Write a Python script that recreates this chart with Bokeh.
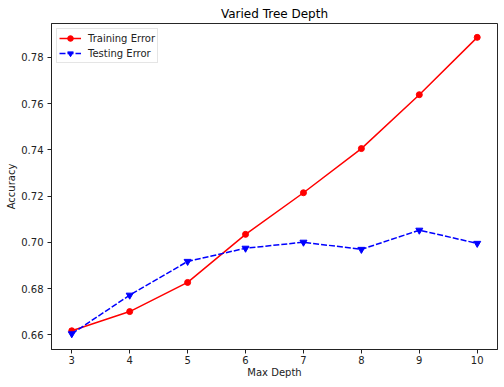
from bokeh.plotting import figure
from bokeh.models import FixedTicker, PrintfTickFormatter, Range1d, Legend, LegendItem
from bokeh.embed import file_html
from bokeh.resources import INLINE

depths = [3, 4, 5, 6, 7, 8, 9, 10]
training_error = [0.6618, 0.6701, 0.6827, 0.7035, 0.7215, 0.7406, 0.7639, 0.7887]
testing_error = [0.6605, 0.6772, 0.6918, 0.6975, 0.7001, 0.6970, 0.7053, 0.6996]
x_ticks = [3, 4, 5, 6, 7, 8, 9, 10]
y_ticks = [0.66, 0.68, 0.70, 0.72, 0.74, 0.76, 0.78]

FONT = "DejaVu Sans"

p = figure(width=502, height=385, output_backend="svg", toolbar_location=None,
           x_range=Range1d(2.65, 10.35), y_range=Range1d(0.6537, 0.7947),
           min_border_left=51, min_border_right=5, min_border_top=23, min_border_bottom=36,
           title="Varied Tree Depth")

p.title.align = "center"
p.title.vertical_align = "middle"
p.title.text_font = FONT
p.title.text_font_size = "12px"
p.title.text_font_style = "normal"
p.title.text_color = "black"
p.title.standoff = 3
p.title.offset = 0

p.xgrid.visible = False
p.ygrid.visible = False
p.outline_line_color = "black"
p.outline_line_width = 1
p.outline_line_alpha = 0.85

for ax in (p.xaxis[0], p.yaxis[0]):
    ax.major_label_text_font = FONT
    ax.major_label_text_font_size = "10px"
    ax.major_label_text_color = "#222222"
    ax.axis_label_text_font = FONT
    ax.axis_label_text_font_size = "10px"
    ax.axis_label_text_font_style = "normal"
    ax.axis_label_text_color = "#222222"
    ax.minor_tick_line_color = None
    ax.major_tick_out = 4
    ax.major_tick_in = 0
    ax.major_tick_line_color = "#222222"
    ax.axis_line_color = "#222222"

p.xaxis[0].major_label_standoff = 2
p.yaxis[0].major_label_standoff = 4
p.xaxis[0].ticker = FixedTicker(ticks=x_ticks)
p.yaxis[0].ticker = FixedTicker(ticks=y_ticks)
p.yaxis[0].formatter = PrintfTickFormatter(format="%.2f")
p.xaxis[0].axis_label = "Max Depth"
p.yaxis[0].axis_label = "Accuracy"
p.xaxis[0].axis_label_standoff = 0
p.yaxis[0].axis_label_standoff = 1

tr_line = p.line(depths, training_error, line_color="#ff0000", line_width=1.5)
tr_pts = p.scatter(depths, training_error, marker="circle", size=6,
                   fill_color="#ff0000", line_color="#ff0000", line_width=1)
te_line = p.line(depths, testing_error, line_color="#0000ff", line_width=1.5,
                 line_dash="6 2")
te_pts = p.scatter(depths, testing_error, marker="inverted_triangle", size=7,
                   fill_color="#0000ff", line_color="#0000ff", line_width=1)

legend = Legend(items=[LegendItem(label="Training Error", renderers=[tr_line, tr_pts]),
                       LegendItem(label="Testing Error", renderers=[te_line, te_pts])],
                location="top_left")
legend.label_text_font = FONT
legend.label_text_font_size = "10px"
legend.label_text_color = "#222222"
legend.border_line_color = "#cccccc"
legend.border_line_width = 1
legend.background_fill_alpha = 0.8
legend.margin = 5
legend.padding = 2
legend.spacing = 1
legend.glyph_width = 22
legend.glyph_height = 14
legend.label_height = 14
legend.label_standoff = 7
p.add_layout(legend, "center")

open("out.html", "w").write(file_html(p, INLINE))
